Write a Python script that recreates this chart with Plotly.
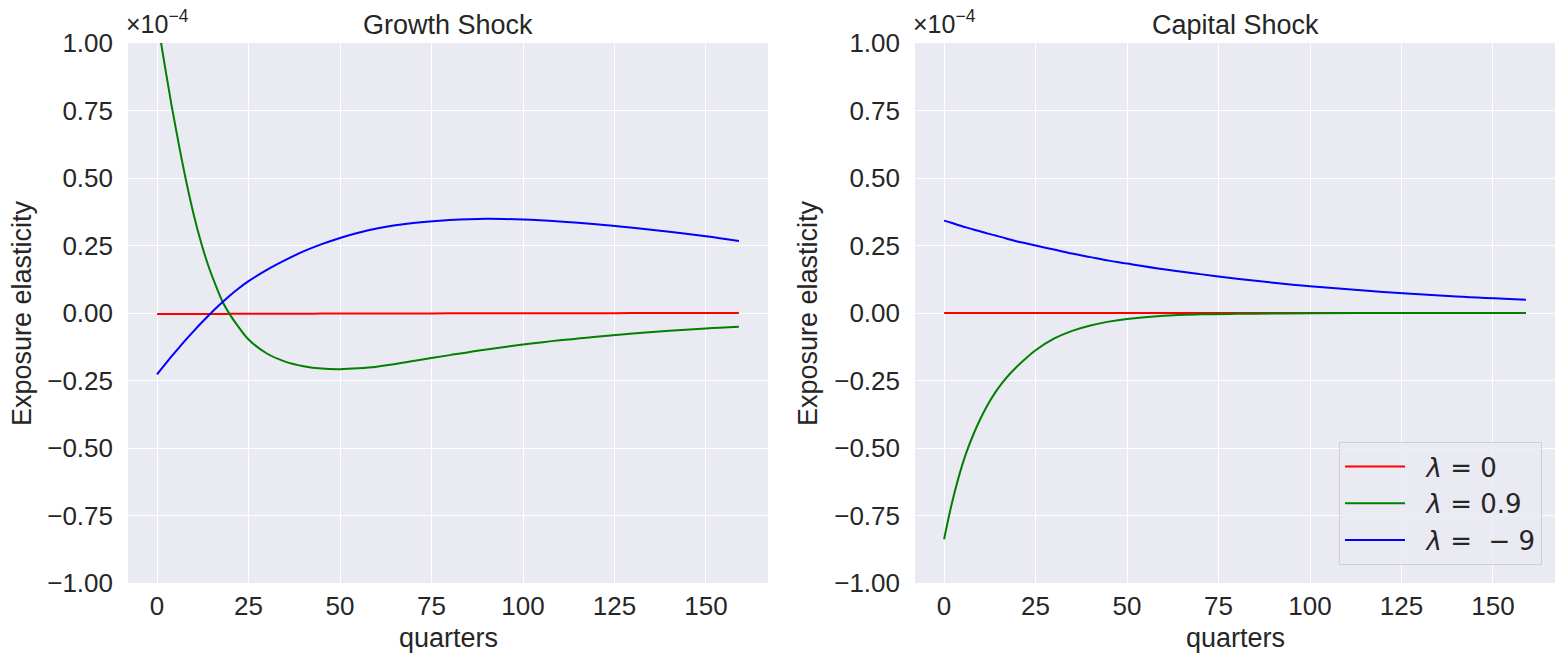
import plotly.graph_objects as go

# ---------------- data (values in units of 1e-4) ----------------
quarters_growth = [0, 2, 4, 6, 8, 10, 12, 14, 16, 18, 20, 22, 25, 30, 35, 40, 45, 50,
                   55, 60, 70, 80, 90, 100, 110, 120, 130, 140, 150, 159]
growth_lam0 = [-0.004, -0.004, -0.004, -0.004, -0.004, -0.004, -0.004, -0.004, -0.004,
               -0.004, -0.003, -0.003, -0.003, -0.003, -0.003, -0.003, -0.002, -0.002,
               -0.002, -0.002, -0.002, -0.001, -0.001, -0.001, -0.001, -0.001, 0.0, 0.0,
               0.0, 0.0]
growth_lam09 = [1.09, 0.925, 0.765, 0.62, 0.485, 0.365, 0.262, 0.175, 0.103, 0.039, -0.008,
                -0.047, -0.098, -0.150, -0.180, -0.197, -0.206, -0.208, -0.205, -0.199,
                -0.178, -0.156, -0.135, -0.117, -0.101, -0.088, -0.076, -0.066, -0.057,
                -0.051]
growth_lamm9 = [-0.227, -0.193, -0.160, -0.128, -0.097, -0.067, -0.038, -0.010, 0.017,
                0.042, 0.066, 0.088, 0.118, 0.160, 0.196, 0.228, 0.255, 0.278, 0.297,
                0.313, 0.333, 0.344, 0.349, 0.346, 0.339, 0.329, 0.316, 0.301, 0.284,
                0.267]

quarters_capital = [0, 2, 4, 6, 8, 10, 12, 14, 16, 18, 20, 22, 25, 30, 35, 40, 45, 50,
                    60, 70, 80, 90, 100, 120, 140, 159]
capital_lam0 = [0.0] * len(quarters_capital)
capital_lam09 = [-0.838, -0.712, -0.607, -0.520, -0.450, -0.390, -0.338, -0.294, -0.257,
                 -0.225, -0.197, -0.172, -0.138, -0.095, -0.066, -0.046, -0.032, -0.022,
                 -0.010, -0.005, -0.003, -0.002, -0.001, 0.0, 0.0, 0.0]
capital_lamm9 = [0.342, 0.334, 0.325, 0.317, 0.309, 0.302, 0.294, 0.287, 0.280, 0.272,
                 0.265, 0.259, 0.250, 0.235, 0.220, 0.207, 0.194, 0.183, 0.162, 0.144,
                 0.127, 0.112, 0.099, 0.078, 0.061, 0.049]

x_ticks = [0, 25, 50, 75, 100, 125, 150]
y_ticks = [-1.0, -0.75, -0.5, -0.25, 0.0, 0.25, 0.5, 0.75, 1.0]
panel_titles = ["Growth Shock", "Capital Shock"]
legend_names = ["\u00a0\u00a0<i>λ</i>\u00a0=\u00a00",
                "\u00a0\u00a0<i>λ</i>\u00a0=\u00a00.9",
                "\u00a0\u00a0<i>λ</i>\u00a0=\u00a0\u00a0−\u00a09"]
colors = ["#ff0000", "#008000", "#0000ff"]

# ---------------- layout geometry ----------------
W, H = 1566, 665
L1, R1 = 128, 768
L2, R2 = 915, 1555
TOP, BOT = 43, 583
TXT = "#262626"
FONT = "Liberation Sans, Arial, sans-serif"

fig = go.Figure()

series = [
    (quarters_growth, [growth_lam0, growth_lam09, growth_lamm9], "x", "y", False),
    (quarters_capital, [capital_lam0, capital_lam09, capital_lamm9], "x2", "y2", True),
]
for xs, ys_list, xa, ya, show in series:
    for name, ys, c in zip(legend_names, ys_list, colors):
        fig.add_trace(go.Scatter(
            x=xs, y=ys, mode="lines", name=name, xaxis=xa, yaxis=ya,
            line=dict(color=c, width=2, shape="spline", smoothing=1.0),
            showlegend=show, hoverinfo="skip",
        ))

axis_common = dict(
    showgrid=True, gridcolor="white", gridwidth=1.4, zeroline=False, automargin=False,
    showline=False, ticks="", tickfont=dict(size=26, color=TXT, family=FONT),
)
xr = [-7.95, 166.95]
fig.update_layout(
    width=W, height=H, margin=dict(l=0, r=0, t=0, b=0, autoexpand=False),
    paper_bgcolor="white", plot_bgcolor="#eaeaf2",
    font=dict(family=FONT, color=TXT),
    xaxis=dict(domain=[L1 / W, R1 / W], range=xr, tickvals=x_ticks, anchor="y",
               ticklabelstandoff=5, **axis_common),
    yaxis=dict(domain=[1 - BOT / H, 1 - TOP / H], range=[-1, 1], tickvals=y_ticks,
               tickformat=".2f", anchor="x", ticklabelstandoff=14, **axis_common),
    xaxis2=dict(domain=[L2 / W, R2 / W], range=xr, tickvals=x_ticks, anchor="y2",
                ticklabelstandoff=5, **axis_common),
    yaxis2=dict(domain=[1 - BOT / H, 1 - TOP / H], range=[-1, 1], tickvals=y_ticks,
                tickformat=".2f", anchor="x2", ticklabelstandoff=14, **axis_common),
    legend=dict(x=1542 / W, xanchor="right", y=1 - 442 / H, yanchor="top",
                itemwidth=60, tracegroupgap=0,
                bgcolor="rgba(234,234,242,0.8)", bordercolor="#d0d0d0", borderwidth=1,
                font=dict(family="DejaVu Sans", size=26, color=TXT)),
)

ann = []
for (l, r), title in zip([(L1, R1), (L2, R2)], panel_titles):
    ann.append(dict(text=title, x=(l + r) / 2 / W, y=1 - 25 / H, xref="paper", yref="paper",
                    xanchor="center", yanchor="middle", showarrow=False,
                    font=dict(size=27, color=TXT, family=FONT)))
    ann.append(dict(text="quarters", x=(l + r) / 2 / W, y=1 - 638 / H, xref="paper",
                    yref="paper", xanchor="center", yanchor="middle", showarrow=False,
                    font=dict(size=27, color=TXT, family=FONT)))
    ann.append(dict(text="×10<sup>−4</sup>", x=(l - 4) / W, y=1 - 40 / H, xref="paper",
                    yref="paper", xanchor="left", yanchor="bottom", showarrow=False,
                    font=dict(size=25, color=TXT, family=FONT)))
for xc in [22, 808]:
    ann.append(dict(text="Exposure elasticity", x=xc / W, y=1 - 313 / H, xref="paper",
                    yref="paper", xanchor="center", yanchor="middle", textangle=-90,
                    showarrow=False, font=dict(size=27, color=TXT, family=FONT)))
fig.update_layout(annotations=ann)

fig.write_html("out.html", config={"displayModeBar": False},
               post_script="document.body.style.margin='0';document.body.style.overflow='hidden';")
